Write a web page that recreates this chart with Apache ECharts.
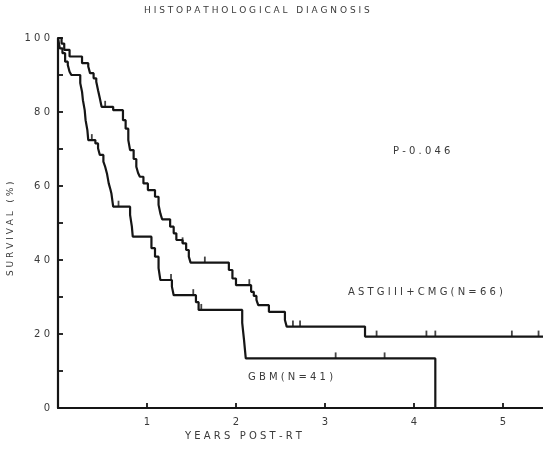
<!DOCTYPE html>
<html>
<head>
<meta charset="utf-8">
<script src="https://cdn.jsdelivr.net/npm/echarts@6/dist/echarts.min.js"></script>
<style>
  html, body { margin: 0; padding: 0; background: #fff; }
  #chart { width: 543px; height: 453px; }
</style>
</head>
<body>
<div id="chart"></div>
<script>
// Kaplan-Meier steps: [years, survival %]
const astgTimes = [0, 0.04, 0.07, 0.13, 0.27, 0.34, 0.36, 0.40, 0.43, 0.45, 0.47, 0.49, 0.62, 0.73, 0.76, 0.79, 0.81, 0.85, 0.88, 0.90, 0.92, 0.96, 1.01, 1.09, 1.13, 1.15, 1.17, 1.26, 1.30, 1.33, 1.40, 1.44, 1.47, 1.49, 1.92, 1.96, 2.00, 2.17, 2.20, 2.23, 2.25, 2.37, 2.55, 2.57, 3.45, 5.45];
const astgSurv = [100, 98.5, 96.8, 95, 93.2, 92.3, 90.5, 89.1, 88.2, 85.9, 83.7, 81.4, 80.5, 77.8, 75.5, 72.4, 69.7, 67.3, 65.2, 63.5, 62.5, 60.7, 58.9, 57.1, 54.9, 52.6, 51.0, 49, 47.2, 45.4, 44.5, 42.7, 40.9, 39.3, 37.3, 35, 33.2, 31.4, 30.3, 29.2, 27.8, 26, 23.8, 22, 19.3, 19.3];
const astgCensorTimes = [0.53, 1.40, 1.65, 2.15, 2.64, 2.72, 3.58, 4.14, 4.24, 5.10, 5.40];
const astgCensorSurv = [81.4, 44.5, 39.3, 33.2, 22, 22, 19.3, 19.3, 19.3, 19.3, 19.3];

const gbmTimes = [0, 0.02, 0.05, 0.08, 0.11, 0.13, 0.15, 0.25, 0.27, 0.28, 0.30, 0.31, 0.33, 0.34, 0.42, 0.45, 0.47, 0.51, 0.53, 0.55, 0.57, 0.59, 0.60, 0.62, 0.81, 0.83, 0.84, 1.05, 1.09, 1.13, 1.15, 1.28, 1.30, 1.55, 1.58, 2.07, 2.09, 2.11, 4.24];
const gbmSurv = [100, 97.2, 95.9, 93.6, 92.7, 90.9, 90, 87.8, 85.5, 83.2, 80.5, 77.8, 75.1, 72.4, 71.5, 70.2, 68.4, 66.6, 65.2, 63.4, 60.7, 59.0, 58, 54.4, 52.2, 49, 46.3, 43.2, 40.9, 37.8, 34.6, 32.8, 30.5, 28.6, 26.5, 23, 18.5, 13.4, 0];
const gbmCensorTimes = [0.38, 0.68, 1.27, 1.52, 1.61, 3.12, 3.67];
const gbmCensorSurv = [72.4, 54.4, 34.6, 30.5, 26.5, 13.4, 13.4];

const yTicks = [0, 20, 40, 60, 80, 100];
const xTicks = [1, 2, 3, 4, 5];

const zip = (a, b) => a.map((v, i) => [v, b[i]]);

const chart = echarts.init(document.getElementById('chart'));
const ink = '#151515';
const textGray = '#3a3a3a';
const font = 'DejaVu Sans';

const censorSeries = (times, surv) => ({
  type: 'scatter',
  data: zip(times, surv),
  symbol: 'rect',
  symbolSize: [1.8, 6],
  symbolOffset: [0, -3],
  itemStyle: { color: ink },
  silent: true,
  z: 3
});

chart.setOption({
  animation: false,
  backgroundColor: '#fff',
  grid: { left: 58, top: 38, right: 0, bottom: 45 },
  xAxis: {
    type: 'value',
    min: 0,
    max: 5.45,
    interval: 1,
    axisLine: { lineStyle: { color: ink, width: 2.2 } },
    axisTick: { inside: true, length: 5, lineStyle: { color: ink, width: 1.8 } },
    axisLabel: {
      color: textGray, fontSize: 10, fontFamily: font, margin: 9,
      formatter: v => (xTicks.includes(v) ? String(v) : ''),
      showMaxLabel: false
    },
    splitLine: { show: false }
  },
  yAxis: {
    type: 'value',
    min: 0,
    max: 100,
    interval: 10,
    axisLine: { show: true, lineStyle: { color: ink, width: 2.2 } },
    axisTick: { inside: true, length: 5, lineStyle: { color: ink, width: 1.8 } },
    axisLabel: {
      color: textGray, fontSize: 10, fontFamily: font, margin: 8,
      formatter: v => (yTicks.includes(v) ? v.toString().split('').join(' ') : '')
    },
    splitLine: { show: false }
  },
  graphic: [
    { type: 'text', x: 144, y: 6, style: { text: 'H I S T O P A T H O L O G I C A L   D I A G N O S I S', fill: textGray, font: '9px ' + font } },
    { type: 'text', x: 393, y: 146, style: { text: 'P - 0 . 0 4 6', fill: textGray, font: '10px ' + font } },
    { type: 'text', x: 348, y: 287, style: { text: 'A S T G I I I + C M G ( N = 6 6 )', fill: textGray, font: '10px ' + font } },
    { type: 'text', x: 248, y: 372, style: { text: 'G B M ( N = 4 1 )', fill: textGray, font: '10px ' + font } },
    { type: 'text', x: 185, y: 431, style: { text: 'Y E A R S   P O S T - R T', fill: textGray, font: '10px ' + font } },
    { type: 'text', x: 6, y: 276, rotation: Math.PI / 2, style: { text: 'S U R V I V A L   ( % )', fill: textGray, font: '9px ' + font } }
  ],
  series: [
    {
      name: 'ASTGIII+CMG',
      type: 'line',
      step: 'end',
      data: zip(astgTimes, astgSurv),
      showSymbol: false,
      lineStyle: { color: ink, width: 2.2 },
      z: 2
    },
    {
      name: 'GBM',
      type: 'line',
      step: 'end',
      data: zip(gbmTimes, gbmSurv),
      showSymbol: false,
      lineStyle: { color: ink, width: 2.2 },
      z: 2
    },
    censorSeries(astgCensorTimes, astgCensorSurv),
    censorSeries(gbmCensorTimes, gbmCensorSurv)
  ]
});
</script>
</body>
</html>
